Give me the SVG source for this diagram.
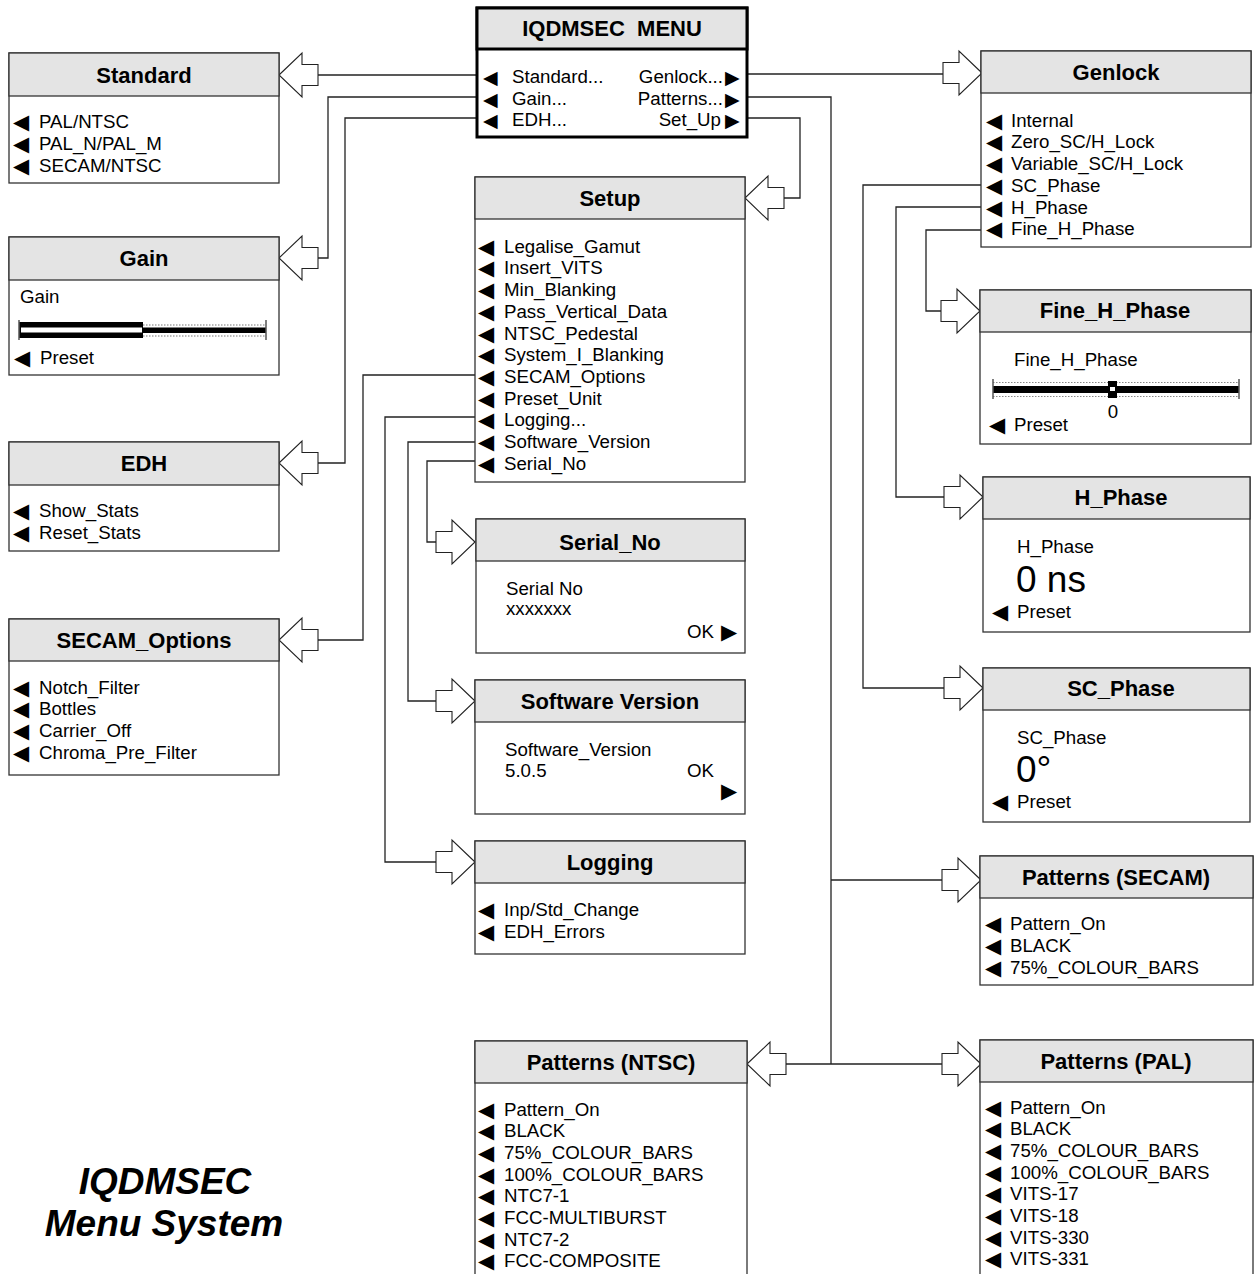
<svg xmlns="http://www.w3.org/2000/svg" width="1258" height="1274" viewBox="0 0 1258 1274">
<style>
.box{fill:#fff;stroke:#333;stroke-width:1.3}
.hd{fill:#e4e4e4;stroke:#333;stroke-width:1.3}
.ttl{font-family:"Liberation Sans",Arial,sans-serif;font-weight:bold;font-size:22px;text-anchor:middle;fill:#000}
.it{font-family:"Liberation Sans",Arial,sans-serif;font-size:18.7px;fill:#000}
.big{font-family:"Liberation Sans",Arial,sans-serif;font-size:37px;fill:#000}
.tri{font-family:"DejaVu Sans",sans-serif;font-size:21px;fill:#000}
.trs{font-family:"DejaVu Sans",sans-serif;font-size:19px;fill:#000}
.con{fill:none;stroke:#222;stroke-width:1.3}
.arr{fill:#fff;stroke:#222;stroke-width:1.1}
.cap{font-family:"Liberation Sans",Arial,sans-serif;font-weight:bold;font-style:italic;font-size:37px;text-anchor:middle;fill:#000}
</style>
<defs>
<path id="al" d="M0,0 L23,-22 L23,-10.5 L39,-10.5 L39,10.5 L23,10.5 L23,22 Z"/>
</defs>

<g id="connectors">
<path class="con" d="M477,75 H318"/>
<path class="con" d="M477,97 H328 V258 H318"/>
<path class="con" d="M477,118 H345 V463 H318"/>
<path class="con" d="M747,74 H943"/>
<path class="con" d="M747,97 H831 V1064 M831,880 H942 M831,1064 H942 M831,1064 H786"/>
<path class="con" d="M747,118 H800 V198 H784"/>
<path class="con" d="M475,375 H363 V640 H318"/>
<path class="con" d="M475,417 H385 V862 H436"/>
<path class="con" d="M475,442 H408 V701 H436"/>
<path class="con" d="M475,461 H427 V542 H436"/>
<path class="con" d="M981,185 H863 V688 H944"/>
<path class="con" d="M981,207 H896 V497 H944"/>
<path class="con" d="M981,230 H926 V311 H941"/>
<use href="#al" class="arr" transform="translate(279,75)"/>
<use href="#al" class="arr" transform="translate(279,258)"/>
<use href="#al" class="arr" transform="translate(279,463)"/>
<use href="#al" class="arr" transform="translate(279,640)"/>
<use href="#al" class="arr" transform="translate(745,198)"/>
<use href="#al" class="arr" transform="translate(747,1064)"/>
<use href="#al" class="arr" transform="translate(475,542) scale(-1,1)"/>
<use href="#al" class="arr" transform="translate(475,701) scale(-1,1)"/>
<use href="#al" class="arr" transform="translate(475,862) scale(-1,1)"/>
<use href="#al" class="arr" transform="translate(982,73) scale(-1,1)"/>
<use href="#al" class="arr" transform="translate(980,311) scale(-1,1)"/>
<use href="#al" class="arr" transform="translate(983,497) scale(-1,1)"/>
<use href="#al" class="arr" transform="translate(983,688) scale(-1,1)"/>
<use href="#al" class="arr" transform="translate(981,880) scale(-1,1)"/>
<use href="#al" class="arr" transform="translate(981,1064) scale(-1,1)"/>
</g>

<g id="menu">
<rect x="477" y="8" width="270" height="129" fill="#fff" stroke="#000" stroke-width="3"/>
<rect x="477" y="8" width="270" height="41" fill="#e4e4e4" stroke="#000" stroke-width="3"/>
<text class="ttl" x="612" y="36" xml:space="preserve">IQDMSEC  MENU</text>
<text class="trs" x="483" y="83.5">◀</text><text class="it" x="512" y="83">Standard...</text>
<text class="trs" x="483" y="105.5">◀</text><text class="it" x="512" y="105">Gain...</text>
<text class="trs" x="483" y="126.5">◀</text><text class="it" x="512" y="126">EDH...</text>
<text class="it" x="723" y="83" text-anchor="end">Genlock...</text><text class="trs" x="725" y="83.5">▶</text>
<text class="it" x="723" y="105" text-anchor="end">Patterns...</text><text class="trs" x="725" y="105.5">▶</text>
<text class="it" x="721" y="126" text-anchor="end">Set_Up</text><text class="trs" x="725" y="126.5">▶</text>
</g>

<g id="standard">
<rect class="box" x="9" y="53" width="270" height="130"/>
<rect class="hd" x="9" y="53" width="270" height="43"/>
<text class="ttl" x="144" y="83">Standard</text>
<text class="tri" x="13" y="129">◀</text><text class="it" x="39" y="128">PAL/NTSC</text>
<text class="tri" x="13" y="151">◀</text><text class="it" x="39" y="150">PAL_N/PAL_M</text>
<text class="tri" x="13" y="173">◀</text><text class="it" x="39" y="172">SECAM/NTSC</text>
</g>

<g id="gain">
<rect class="box" x="9" y="237" width="270" height="138"/>
<rect class="hd" x="9" y="237" width="270" height="43"/>
<text class="ttl" x="144" y="266">Gain</text>
<text class="it" x="20" y="303">Gain</text>
<rect x="19" y="322" width="124" height="16" fill="#000"/>
<rect x="21" y="327.5" width="121" height="5" fill="#fff"/>
<rect x="143" y="327.5" width="123" height="5.5" fill="#000"/>
<path d="M143,325 H266 M143,336 H266" stroke="#777" stroke-width="1" stroke-dasharray="1.5,1.5"/>
<path d="M19,320 V340 M266,320 V340" stroke="#555" stroke-width="1.5"/>
<text class="tri" x="14" y="365">◀</text><text class="it" x="40" y="364">Preset</text>
</g>

<g id="edh">
<rect class="box" x="9" y="442" width="270" height="109"/>
<rect class="hd" x="9" y="442" width="270" height="43"/>
<text class="ttl" x="144" y="471">EDH</text>
<text class="tri" x="13" y="517.5">◀</text><text class="it" x="39" y="516.5">Show_Stats</text>
<text class="tri" x="13" y="539.5">◀</text><text class="it" x="39" y="538.5">Reset_Stats</text>
</g>

<g id="secam-options">
<rect class="box" x="9" y="619" width="270" height="156"/>
<rect class="hd" x="9" y="619" width="270" height="42"/>
<text class="ttl" x="144" y="648">SECAM_Options</text>
<text class="tri" x="13" y="694.5">◀</text><text class="it" x="39" y="693.5">Notch_Filter</text>
<text class="tri" x="13" y="716">◀</text><text class="it" x="39" y="715">Bottles</text>
<text class="tri" x="13" y="737.5">◀</text><text class="it" x="39" y="736.5">Carrier_Off</text>
<text class="tri" x="13" y="759.5">◀</text><text class="it" x="39" y="758.5">Chroma_Pre_Filter</text>
</g>

<g id="setup">
<rect class="box" x="475" y="177" width="270" height="305"/>
<rect class="hd" x="475" y="177" width="270" height="42"/>
<text class="ttl" x="610" y="206">Setup</text>
<text class="tri" x="478" y="253.5">◀</text><text class="it" x="504" y="252.5">Legalise_Gamut</text>
<text class="tri" x="478" y="275">◀</text><text class="it" x="504" y="274">Insert_VITS</text>
<text class="tri" x="478" y="297">◀</text><text class="it" x="504" y="296">Min_Blanking</text>
<text class="tri" x="478" y="318.5">◀</text><text class="it" x="504" y="317.5">Pass_Vertical_Data</text>
<text class="tri" x="478" y="340.5">◀</text><text class="it" x="504" y="339.5">NTSC_Pedestal</text>
<text class="tri" x="478" y="362">◀</text><text class="it" x="504" y="361">System_I_Blanking</text>
<text class="tri" x="478" y="383.5">◀</text><text class="it" x="504" y="382.5">SECAM_Options</text>
<text class="tri" x="478" y="405.5">◀</text><text class="it" x="504" y="404.5">Preset_Unit</text>
<text class="tri" x="478" y="427">◀</text><text class="it" x="504" y="426">Logging...</text>
<text class="tri" x="478" y="448.5">◀</text><text class="it" x="504" y="447.5">Software_Version</text>
<text class="tri" x="478" y="470.5">◀</text><text class="it" x="504" y="469.5">Serial_No</text>
</g>

<g id="serial-no">
<rect class="box" x="476" y="519" width="269" height="134"/>
<rect class="hd" x="476" y="519" width="269" height="42"/>
<text class="ttl" x="610" y="550">Serial_No</text>
<text class="it" x="506" y="595">Serial No</text>
<text class="it" x="506" y="615">xxxxxxx</text>
<text class="it" x="687" y="638">OK</text><text class="tri" x="721" y="639">▶</text>
</g>

<g id="software-version">
<rect class="box" x="475" y="680" width="270" height="134"/>
<rect class="hd" x="475" y="680" width="270" height="42"/>
<text class="ttl" x="610" y="709">Software Version</text>
<text class="it" x="505" y="755.5">Software_Version</text>
<text class="it" x="505" y="777">5.0.5</text>
<text class="it" x="687" y="777">OK</text><text class="tri" x="721" y="798">▶</text>
</g>

<g id="logging">
<rect class="box" x="475" y="841" width="270" height="113"/>
<rect class="hd" x="475" y="841" width="270" height="42"/>
<text class="ttl" x="610" y="870">Logging</text>
<text class="tri" x="478" y="916.5">◀</text><text class="it" x="504" y="915.5">Inp/Std_Change</text>
<text class="tri" x="478" y="938.5">◀</text><text class="it" x="504" y="937.5">EDH_Errors</text>
</g>

<g id="patterns-ntsc">
<rect class="box" x="475" y="1041" width="272" height="260"/>
<rect class="hd" x="475" y="1041" width="272" height="42"/>
<text class="ttl" x="611" y="1070">Patterns (NTSC)</text>
<text class="tri" x="478" y="1116.5">◀</text><text class="it" x="504" y="1115.5">Pattern_On</text>
<text class="tri" x="478" y="1138">◀</text><text class="it" x="504" y="1137">BLACK</text>
<text class="tri" x="478" y="1160">◀</text><text class="it" x="504" y="1159">75%_COLOUR_BARS</text>
<text class="tri" x="478" y="1181.5">◀</text><text class="it" x="504" y="1180.5">100%_COLOUR_BARS</text>
<text class="tri" x="478" y="1203">◀</text><text class="it" x="504" y="1202">NTC7-1</text>
<text class="tri" x="478" y="1225">◀</text><text class="it" x="504" y="1224">FCC-MULTIBURST</text>
<text class="tri" x="478" y="1246.5">◀</text><text class="it" x="504" y="1245.5">NTC7-2</text>
<text class="tri" x="478" y="1268">◀</text><text class="it" x="504" y="1267">FCC-COMPOSITE</text>
</g>

<g id="genlock">
<rect class="box" x="981" y="51" width="270" height="196"/>
<rect class="hd" x="981" y="51" width="270" height="42"/>
<text class="ttl" x="1116" y="80">Genlock</text>
<text class="tri" x="986" y="127.5">◀</text><text class="it" x="1011" y="126.5">Internal</text>
<text class="tri" x="986" y="149">◀</text><text class="it" x="1011" y="148">Zero_SC/H_Lock</text>
<text class="tri" x="986" y="171">◀</text><text class="it" x="1011" y="170">Variable_SC/H_Lock</text>
<text class="tri" x="986" y="192.5">◀</text><text class="it" x="1011" y="191.5">SC_Phase</text>
<text class="tri" x="986" y="214.5">◀</text><text class="it" x="1011" y="213.5">H_Phase</text>
<text class="tri" x="986" y="236">◀</text><text class="it" x="1011" y="235">Fine_H_Phase</text>
</g>

<g id="fine-h-phase">
<rect class="box" x="980" y="290" width="271" height="154"/>
<rect class="hd" x="980" y="290" width="271" height="42"/>
<text class="ttl" x="1115" y="318">Fine_H_Phase</text>
<text class="it" x="1014" y="365.5">Fine_H_Phase</text>
<rect x="993" y="386" width="246" height="7" fill="#000"/>
<path d="M993,382.5 H1239 M993,396.5 H1239" stroke="#888" stroke-width="1" stroke-dasharray="1.5,1.5"/>
<path d="M993,379 V399 M1239,379 V399" stroke="#555" stroke-width="1.5"/>
<rect x="1108" y="381" width="9" height="17" fill="#000"/>
<rect x="1110" y="387" width="5" height="4" fill="#fff"/>
<text class="it" x="1113" y="418" text-anchor="middle">0</text>
<text class="tri" x="989" y="432">◀</text><text class="it" x="1014" y="431">Preset</text>
</g>

<g id="h-phase">
<rect class="box" x="983" y="477" width="267" height="155"/>
<rect class="hd" x="983" y="477" width="267" height="42"/>
<text class="ttl" x="1121" y="505">H_Phase</text>
<text class="it" x="1017" y="552.5">H_Phase</text>
<text class="big" x="1016" y="592">0 ns</text>
<text class="tri" x="992" y="618.5">◀</text><text class="it" x="1017" y="617.5">Preset</text>
</g>

<g id="sc-phase">
<rect class="box" x="983" y="668" width="267" height="154"/>
<rect class="hd" x="983" y="668" width="267" height="42"/>
<text class="ttl" x="1121" y="696">SC_Phase</text>
<text class="it" x="1017" y="743.5">SC_Phase</text>
<text class="big" x="1016" y="782">0°</text>
<text class="tri" x="992" y="809">◀</text><text class="it" x="1017" y="808">Preset</text>
</g>

<g id="patterns-secam">
<rect class="box" x="980" y="856" width="273" height="129"/>
<rect class="hd" x="980" y="856" width="273" height="42"/>
<text class="ttl" x="1116" y="885">Patterns (SECAM)</text>
<text class="tri" x="985" y="930.5">◀</text><text class="it" x="1010" y="929.5">Pattern_On</text>
<text class="tri" x="985" y="952.5">◀</text><text class="it" x="1010" y="951.5">BLACK</text>
<text class="tri" x="985" y="974.5">◀</text><text class="it" x="1010" y="973.5">75%_COLOUR_BARS</text>
</g>

<g id="patterns-pal">
<rect class="box" x="980" y="1040" width="273" height="260"/>
<rect class="hd" x="980" y="1040" width="273" height="42"/>
<text class="ttl" x="1116" y="1069">Patterns (PAL)</text>
<text class="tri" x="985" y="1114.5">◀</text><text class="it" x="1010" y="1113.5">Pattern_On</text>
<text class="tri" x="985" y="1136">◀</text><text class="it" x="1010" y="1135">BLACK</text>
<text class="tri" x="985" y="1158">◀</text><text class="it" x="1010" y="1157">75%_COLOUR_BARS</text>
<text class="tri" x="985" y="1179.5">◀</text><text class="it" x="1010" y="1178.5">100%_COLOUR_BARS</text>
<text class="tri" x="985" y="1201">◀</text><text class="it" x="1010" y="1200">VITS-17</text>
<text class="tri" x="985" y="1223">◀</text><text class="it" x="1010" y="1222">VITS-18</text>
<text class="tri" x="985" y="1244.5">◀</text><text class="it" x="1010" y="1243.5">VITS-330</text>
<text class="tri" x="985" y="1266">◀</text><text class="it" x="1010" y="1265">VITS-331</text>
</g>

<g id="caption">
<text class="cap" x="165" y="1194">IQDMSEC</text>
<text class="cap" x="164" y="1236">Menu System</text>
</g>
</svg>
